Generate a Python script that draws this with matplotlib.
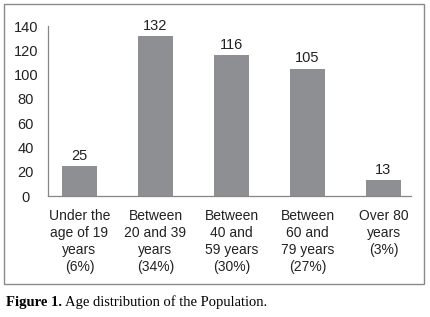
import matplotlib
matplotlib.use("Agg")
from matplotlib import pyplot as plt
from matplotlib import font_manager
from matplotlib.patches import Rectangle

# Dados
categorias = ["Under the\nage of 19\nyears\n(6%)",
              "Between\n20 and 39\nyears\n(34%)",
              "Between\n40 and\n59 years\n(30%)",
              "Between\n60 and\n79 years\n(27%)",
              "Over 80\nyears\n(3%)"]
valores = [25, 132, 116, 105, 13]
yticks = [0, 20, 40, 60, 80, 100, 120, 140]

nomes = {f.name for f in font_manager.fontManager.ttflist}
fonte = "Liberation Sans Narrow" if "Liberation Sans Narrow" in nomes else "Liberation Sans"

fig = plt.figure(figsize=(4.30, 3.17), dpi=100)
ax = fig.add_axes([48 / 430, 121 / 317, 363 / 430, 170 / 317])

x = list(range(len(valores)))
ax.bar(x, valores, width=0.46, color="#8e8f93")
for xi, v in zip(x, valores):
    ax.text(xi, v + 2.5, str(v), ha="center", va="bottom",
            fontsize=10.5, family=fonte, color="#222222")

ax.set_xlim(-0.414, 4.362)
ax.set_ylim(0, 140)
ax.set_yticks(yticks)
ax.set_yticklabels([str(t) for t in yticks], family=fonte, fontsize=10.5, ha="center")
ax.tick_params(axis="y", length=0, pad=16, colors="#222222")
ax.set_xticks(x)
ax.set_xticklabels(categorias, family=fonte, fontsize=10, linespacing=1.3, va="top")
ax.tick_params(axis="x", length=0, pad=9, colors="#222222")

for s in ["top", "right"]:
    ax.spines[s].set_visible(False)
for s in ["left", "bottom"]:
    ax.spines[s].set_color("#868686")
    ax.spines[s].set_linewidth(0.9)

# moldura cinza
fig.patches.append(Rectangle((4 / 430, 1 - 284 / 317), 420 / 430, 280 / 317,
                             transform=fig.transFigure, fill=False,
                             edgecolor="#8a8a8a", linewidth=1.0))

# legenda da figura
t1 = fig.text(6 / 430, 1 - 306 / 317, "Figure 1.", family="Liberation Serif",
              fontsize=10.5, fontweight="bold", va="baseline")
fig.canvas.draw()
bb = t1.get_window_extent()
fig.text((bb.x1 + 3) / 430, 1 - 306 / 317, "Age distribution of the Population.",
         family="Liberation Serif", fontsize=10.5, va="baseline")

plt.savefig("out.png", dpi=100)
